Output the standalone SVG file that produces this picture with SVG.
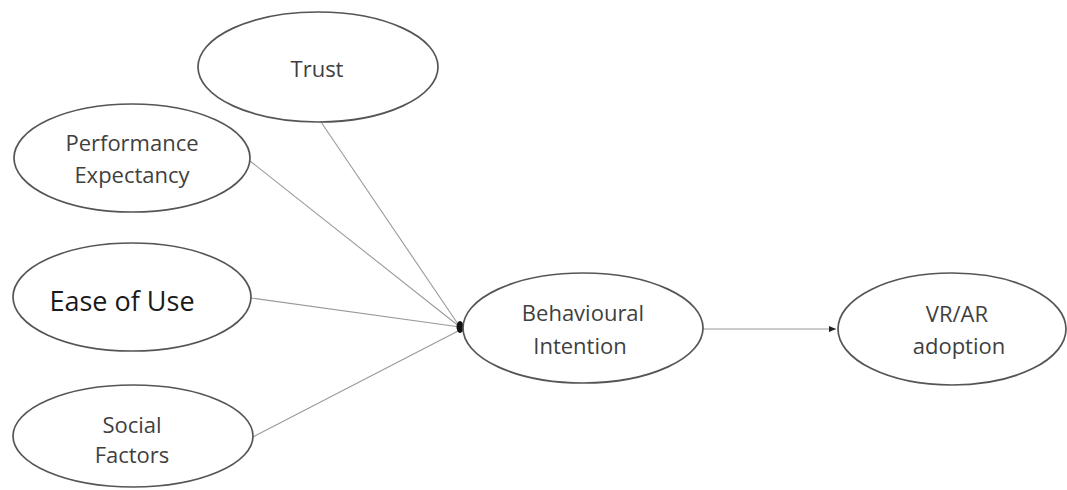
<svg xmlns="http://www.w3.org/2000/svg" width="1067" height="490" viewBox="0 0 1067 490">
<defs>
<style>
.node ellipse{fill:#fff;stroke:#555;stroke-width:1.7}
.node text{font-family:"Open Sans","Liberation Sans",sans-serif;font-size:22px;fill:#3f3f3f;text-anchor:middle}
.conn line{stroke:#9a9a9a;stroke-width:1.1}
</style>
<marker id="arr" markerWidth="8" markerHeight="8" refX="7" refY="4" orient="auto" markerUnits="userSpaceOnUse">
<path d="M0,1 L7,4 L0,7 Z" fill="#222"/>
</marker>
</defs>
<rect width="1067" height="490" fill="#fff"/>
<g id="connectors" class="conn">
<line x1="321" y1="122" x2="460" y2="327"/>
<line x1="250" y1="161" x2="460" y2="327"/>
<line x1="251" y1="298" x2="460" y2="327"/>
<line x1="253" y1="437" x2="460" y2="330"/>
<line x1="703" y1="329" x2="836" y2="329" stroke="#777" marker-end="url(#arr)"/>
<ellipse cx="460" cy="327" rx="3.5" ry="6" fill="#111"/>
</g>
<g id="trust" class="node">
<ellipse cx="318" cy="67" rx="120" ry="55"/>
<text x="317" y="77">Trust</text>
</g>
<g id="performance" class="node">
<ellipse cx="132" cy="158" rx="118" ry="54"/>
<text x="132" y="151">Performance</text>
<text x="132" y="183">Expectancy</text>
</g>
<g id="ease" class="node">
<ellipse cx="132" cy="297" rx="119" ry="54"/>
<text x="122" y="311" style="font-size:27px;fill:#1a1a1a">Ease of Use</text>
</g>
<g id="social" class="node">
<ellipse cx="133" cy="436" rx="120" ry="51"/>
<text x="132" y="433">Social</text>
<text x="132" y="463">Factors</text>
</g>
<g id="behavioural" class="node">
<ellipse cx="583" cy="328" rx="120" ry="55"/>
<text x="583" y="321">Behavioural</text>
<text x="580" y="354">Intention</text>
</g>
<g id="vrar" class="node">
<ellipse cx="952" cy="329" rx="114" ry="56"/>
<text x="957" y="322">VR/AR</text>
<text x="959" y="354">adoption</text>
</g>
</svg>
